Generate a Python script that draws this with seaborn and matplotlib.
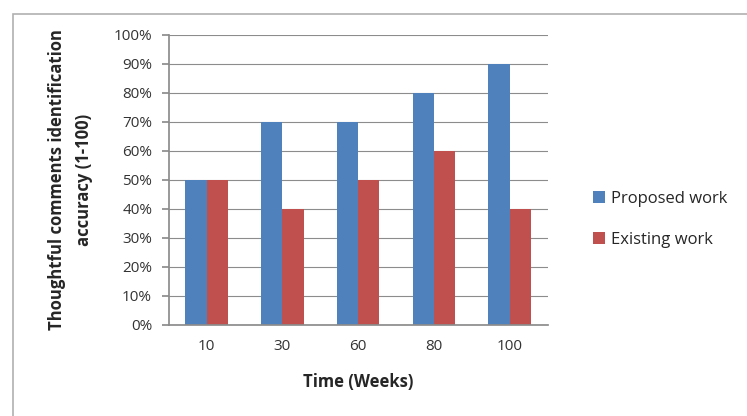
import matplotlib
matplotlib.use("Agg")
import matplotlib.pyplot as plt
import matplotlib.patches as mpatches
import pandas as pd
import seaborn as sns
from matplotlib.ticker import PercentFormatter

weeks = ["10", "30", "60", "80", "100"]
proposed = [50, 70, 70, 80, 90]
existing = [50, 40, 50, 60, 40]
series_names = ["Proposed work", "Existing work"]

df = pd.DataFrame({
    "week": weeks * 2,
    "acc": proposed + existing,
    "work": [series_names[0]] * len(weeks) + [series_names[1]] * len(weeks),
})

sns.set_theme(style="white")
plt.rcParams['font.family'] = ['Open Sans', 'DejaVu Sans']

fig = plt.figure(figsize=(7.47, 4.16), dpi=100)
ax = fig.add_axes([0.226, 0.219, 0.507, 0.697])

sns.barplot(data=df, x="week", y="acc", hue="work", palette=["#4F81BD", "#C0504D"],
            width=0.56, saturation=1, linewidth=0, ax=ax, legend=True)

ax.set_ylim(0, 100)
ax.set_yticks(range(0, 101, 10))
ax.yaxis.set_major_formatter(PercentFormatter(decimals=0))
ax.grid(axis="y", color="#8c8c8c", linewidth=0.8)
ax.set_axisbelow(True)
for s in ["top", "right"]:
    ax.spines[s].set_visible(False)
ax.spines["left"].set_color("#8c8c8c")
ax.spines["bottom"].set_color("#8c8c8c")
ax.tick_params(axis="y", which="major", left=True, length=5, color="#8c8c8c",
               labelsize=11, labelcolor="#333333", pad=7)
ax.tick_params(axis="x", bottom=False, labelsize=11, labelcolor="#333333", pad=4)

ax.set_xlabel("Time (Weeks)", fontsize=12, fontweight="bold", labelpad=14)
ax.set_ylabel("Thoughtful comments identification\naccuracy (1-100)", fontsize=12,
              fontweight="bold", labelpad=15, linespacing=1.6)

ax.legend(loc="center left", bbox_to_anchor=(1.08, 0.365), frameon=False,
          fontsize=12, handlelength=0.75, handleheight=0.75, handletextpad=0.35,
          labelspacing=1.5)

fig.patches.append(mpatches.Rectangle((0.018, -0.01), 0.99, 0.977, transform=fig.transFigure,
                                      fill=False, edgecolor="#b0b0b0", linewidth=1.2))

fig.savefig("out.png", dpi=100)
